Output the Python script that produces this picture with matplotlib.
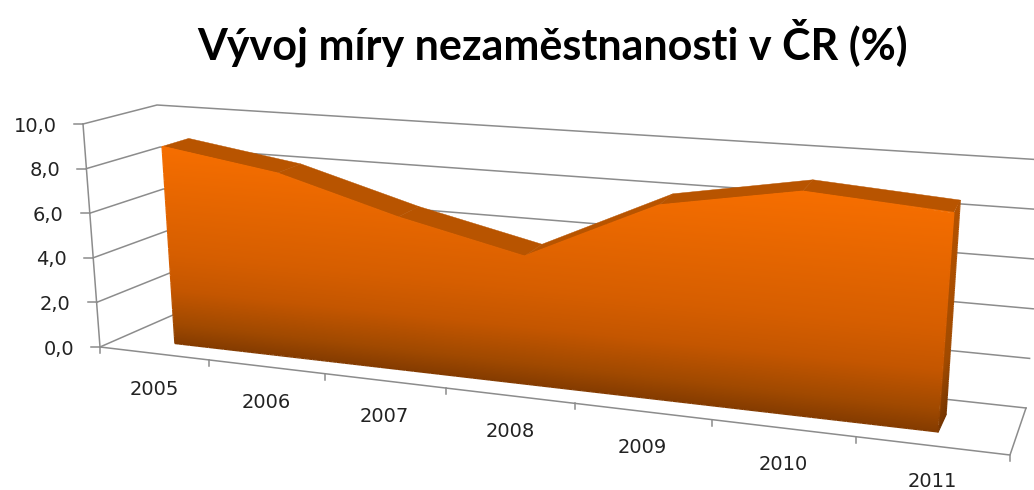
import numpy as np
import matplotlib
matplotlib.use("Agg")
import matplotlib.pyplot as plt
from matplotlib.patches import Polygon
from matplotlib.collections import LineCollection
from matplotlib.colors import to_rgb

title = "Vývoj míry nezaměstnanosti v ČR (%)"
years = ["2005", "2006", "2007", "2008", "2009", "2010", "2011"]
rates = [8.9, 8.1, 6.6, 5.4, 8.0, 9.0, 8.6]
y_ticks = [0, 2, 4, 6, 8, 10]
y_max = 10.0

# ---- perspective frame of the 3D plot box (pixel anchors) ----
FL0, FL1 = np.array([100., 347.]), np.array([83., 124.])
FR0, FR1 = np.array([1010., 455.]), np.array([1033., 192.])
BL0, BL1 = np.array([173., 315.]), np.array([157., 105.])
BR0, BR1 = np.array([1026., 408.]), np.array([1044., 160.])
W = 1.22            # perspective foreshortening along the category axis
D0, D1 = 0.30, 0.68  # depth range of the area slab


def project(t, v, d):
    t = np.asarray(t, float)
    v = np.asarray(v, float) / y_max
    d = np.asarray(d, float)
    s = t / (t + W * (1 - t))
    def corner(a, b, c, e):
        return ((1 - s)[..., None] * a + s[..., None] * b) * (1 - v)[..., None] + \
               ((1 - s)[..., None] * c + s[..., None] * e) * v[..., None]
    front = corner(FL0, FR0, FL1, FR1)
    back = corner(BL0, BR0, BL1, BR1)
    p = front * (1 - d)[..., None] + back * d[..., None]
    return p[..., 0], p[..., 1]


def pt(t, v, d):
    x, y = project(np.array(t, float), np.array(v, float), np.array(d, float))
    return float(x), float(y)


n = len(years)
cat_t = [(i + 0.5) / n for i in range(n)]

fig = plt.figure(figsize=(10.34, 4.90), dpi=100, facecolor="white")
ax = fig.add_axes([0, 0, 1, 1])
ax.set_xlim(0, 1034)
ax.set_ylim(490, 0)
ax.axis("off")

GRID = "#8c8c8c"
LW = 1.1

# gridlines on side and back walls
for v in y_ticks:
    a, b, c = pt(0, v, 0), pt(0, v, 1), pt(1, v, 1)
    ax.plot([a[0], b[0], c[0]], [a[1], b[1], c[1]], color=GRID, lw=LW, zorder=1)
    ax.plot([a[0], a[0] - 9], [a[1], a[1]], color=GRID, lw=LW, zorder=1)
    ax.text(a[0] - 26, a[1] + 2, f"{v:.1f}".replace(".", ","), ha="right", va="center",
            fontsize=14, family="DejaVu Sans", color="#222222")

# value axis line, floor front edge, floor right edge
a, b = pt(0, 0, 0), pt(0, y_max, 0)
ax.plot([a[0], b[0]], [a[1], b[1]], color=GRID, lw=LW, zorder=1)
a, b, c = pt(0, 0, 0), pt(1, 0, 0), pt(1, 0, 1)
ax.plot([a[0], b[0], c[0]], [a[1], b[1], c[1]], color=GRID, lw=LW, zorder=1)

# category ticks and labels
for i in range(n + 1):
    p = pt(i / n, 0, 0)
    ax.plot([p[0], p[0]], [p[1], p[1] + 6], color=GRID, lw=LW, zorder=1)
for i, lab in enumerate(years):
    p = pt(cat_t[i], 0, 0)
    ax.text(p[0], p[1] + 36.0, lab, ha="center", va="center", fontsize=14,
            family="DejaVu Sans", color="#222222")

# top surface of the slab
for i in range(n - 1):
    poly = [pt(cat_t[i], rates[i], D0), pt(cat_t[i + 1], rates[i + 1], D0),
            pt(cat_t[i + 1], rates[i + 1], D1), pt(cat_t[i], rates[i], D1)]
    ax.add_patch(Polygon(poly, closed=True, fc="#b85400", ec="#b85400", lw=0.3, zorder=2))

# right side wall
side_pos = [0, 0.3, 1]
side_col = np.array([to_rgb(c) for c in ["#743400", "#a04a00", "#b45200"]])


def side_color(f):
    return np.stack([np.interp(f, side_pos, side_col[:, k]) for k in range(3)], axis=-1)


N = 120
vv = np.linspace(0, rates[-1], N + 1)
dd = np.linspace(D0, D1, 3)
V, Dg = np.meshgrid(vv, dd, indexing="ij")
X, Y = project(np.full_like(V, cat_t[-1]), V, Dg)
f = 0.5 * (vv[:-1] + vv[1:]) / rates[-1]
cols = np.repeat(side_color(f)[:, None, :], 2, axis=1)
m = ax.pcolormesh(X, Y, cols, shading="flat", antialiased=False, zorder=2.5)
clip = Polygon([pt(cat_t[-1], 0, D0), pt(cat_t[-1], rates[-1], D0),
                pt(cat_t[-1], rates[-1], D1), pt(cat_t[-1], 0, D1)], closed=True,
               transform=ax.transData)
m.set_clip_path(clip)
# soft outer edges of the side wall
Xe, Ye = project(np.full(N + 1, cat_t[-1]), vv, np.full(N + 1, D1))
pts = np.column_stack([Xe, Ye])
ax.add_collection(LineCollection(np.stack([pts[:-1], pts[1:]], axis=1),
                                 colors=side_color(f), linewidths=0.8, zorder=2.6))
a, b = pt(cat_t[-1], 0, D0), pt(cat_t[-1], 0, D1)
ax.plot([a[0], b[0]], [a[1], b[1]], color=side_col[0], lw=0.8, zorder=2.6)

# gradient front face
grad_pos = [0.0, 0.10, 0.27, 0.45, 1.0]
grad_col = np.array([to_rgb(c) for c in ["#843b00", "#a04900", "#c45600", "#d65e00", "#f66e00"]])


def front_color(v):
    return np.stack([np.interp(np.asarray(v) / max(rates), grad_pos, grad_col[:, k]) for k in range(3)], axis=-1)


ts = np.linspace(cat_t[0], cat_t[-1], 500)
vs = np.linspace(0, y_max, 400)
T, Vv = np.meshgrid(ts, vs, indexing="xy")
X, Y = project(T, Vv, np.full_like(T, D0))
row = front_color(0.5 * (vs[:-1] + vs[1:]))
cols = np.repeat(row[:, None, :], len(ts) - 1, axis=1)
m = ax.pcolormesh(X, Y, cols, shading="flat", antialiased=False, zorder=3)
outline = [pt(t, 0, D0) for t in cat_t] + [pt(t, r, D0) for t, r in zip(cat_t[::-1], rates[::-1])]
clip = Polygon(outline, closed=True, transform=ax.transData)
m.set_clip_path(clip)

# antialiased stroke around the face so its edges are not jagged
loop_t = cat_t + cat_t[::-1] + [cat_t[0]]
loop_v = [0.0] * n + rates[::-1] + [0.0]
edge_t, edge_v = [], []
for k in range(len(loop_t) - 1):
    edge_t.extend(np.linspace(loop_t[k], loop_t[k + 1], 30))
    edge_v.extend(np.linspace(loop_v[k], loop_v[k + 1], 30))
ex, ey = project(np.array(edge_t), np.array(edge_v), np.full(len(edge_t), D0))
pts = np.column_stack([ex, ey])
ax.add_collection(LineCollection(np.stack([pts[:-1], pts[1:]], axis=1),
                                 colors=front_color(np.array(edge_v[:-1])),
                                 linewidths=0.9, zorder=3.1))

ax.text(553, 43, title, ha="center", va="center", fontsize=31, fontweight="bold",
        family="Lato", color="black")

fig.savefig("out.png", dpi=100, facecolor="white")
